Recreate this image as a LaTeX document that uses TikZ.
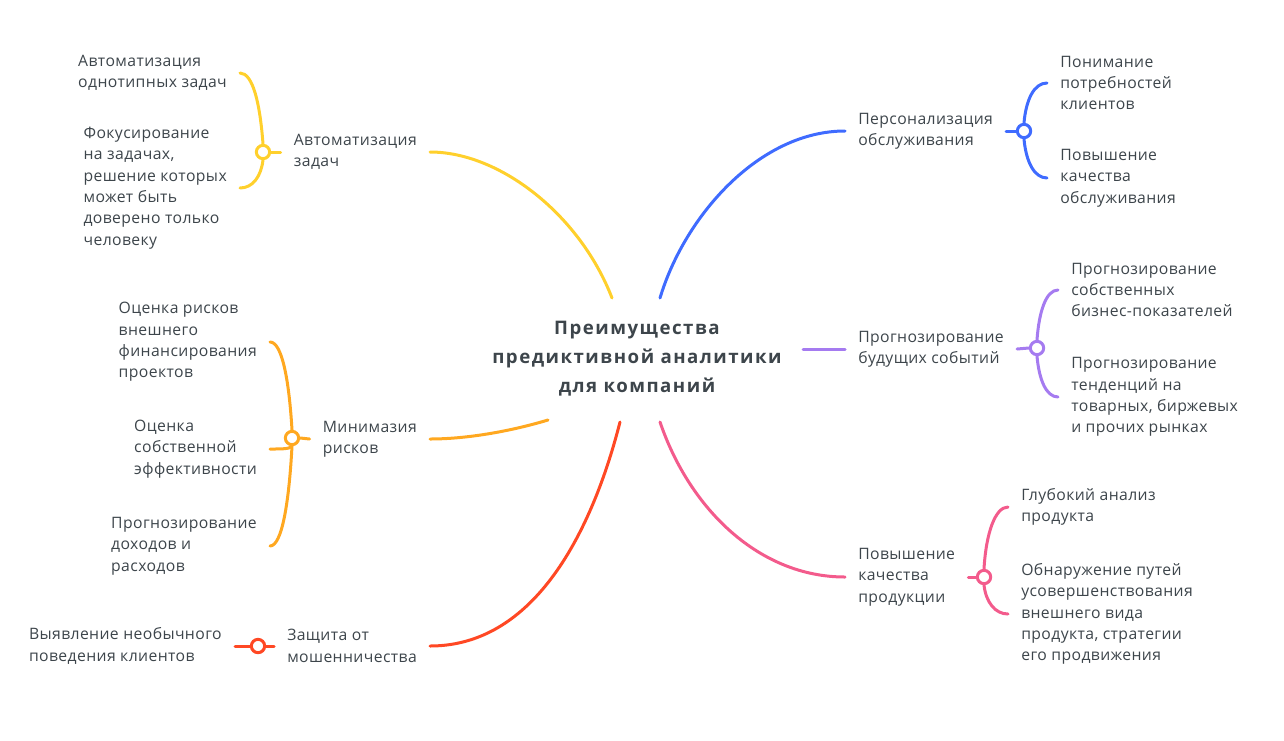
\documentclass[tikz,border=0pt]{standalone}
\usepackage{fontspec}
\setmainfont{Open Sans}[LetterSpace=2.5]
\newfontfamily\titlefont{Open Sans}[LetterSpace=8]
\usepackage{xcolor}
\usepackage{tikz}
\usetikzlibrary{positioning, calc}
\definecolor{ink}{RGB}{61, 69, 75}
\definecolor{mapyellow}{RGB}{255, 208, 44}
\definecolor{maporange}{RGB}{255, 168, 32}
\definecolor{mapred}{RGB}{255, 72, 36}
\definecolor{mapblue}{RGB}{63, 107, 255}
\definecolor{mappurple}{RGB}{165, 123, 240}
\definecolor{mappink}{RGB}{243, 91, 140}

\begin{document}
\begin{tikzpicture}[
          x=0.75pt, y=-0.75pt,
          topic/.style={align=center, text=ink, inner sep=0pt, font=\titlefont\bfseries\fontsize{14}{21.75}\selectfont},
          branch/.style={align=left, text=ink, inner xsep=9.75pt, inner ysep=0pt, font=\fontsize{11.8}{16}\selectfont},
          leaf/.style={branch},
          hub/.style={circle, fill=white, line width=2.25pt, minimum size=10pt, inner sep=0pt},
          conn/.style={line width=2.25pt, line cap=round}
        ]
          \useasboundingbox (0,0) rectangle (1284,740);

          % Central Topic
          \node[topic] (title) at (637,359) {Преимущества\\предиктивной аналитики\\для компаний};
          \coordinate (ty) at (612,298);
          \coordinate (tb) at (660,298);
          \coordinate (tp) at (803,349);
          \coordinate (to) at (548,420);
          \coordinate (tr) at (620,422);
          \coordinate (tk) at (660,422);

          % Main Branches
          \node[branch, anchor=east] (auto) at (430,152) {Автоматизация\\задач};
          \node[branch, anchor=east] (risk) at (430,439) {Минимазия\\рисков};
          \node[branch, anchor=east] (fraud) at (430,646) {Защита от\\мошенничества};
          \node[branch, anchor=west] (pers) at (845,131) {Персонализация\\обслуживания};
          \node[branch, anchor=west] (fcst) at (845,349) {Прогнозирование\\будущих событий};
          \node[branch, anchor=west] (qual) at (845,577) {Повышение\\качества\\продукции};

          % Leaves
          \node[leaf, anchor=east] (auto1) at (240,73) {Автоматизация\\однотипных задач};
          \node[leaf, anchor=east] (auto2) at (240,188) {Фокусирование\\на задачах,\\решение которых\\может быть\\доверено только\\человеку};
          \node[leaf, anchor=east] (risk1) at (270,342) {Оценка рисков\\внешнего\\финансирования\\проектов};
          \node[leaf, anchor=east] (risk2) at (270,449) {Оценка\\собственной\\эффективности};
          \node[leaf, anchor=east] (risk3) at (270,546) {Прогнозирование\\доходов и\\расходов};
          \node[leaf, anchor=east] (fraud1) at (235,646) {Выявление необычного\\поведения клиентов};
          \node[leaf, anchor=west] (pers1) at (1047,83) {Понимание\\потребностей\\клиентов};
          \node[leaf, anchor=west] (pers2) at (1047,178) {Повышение\\качества\\обслуживания};
          \node[leaf, anchor=west] (fcst1) at (1058,290) {Прогнозирование\\собственных\\бизнес-показателей};
          \node[leaf, anchor=west] (fcst2) at (1058,397) {Прогнозирование\\тенденций на\\товарных, биржевых\\и прочих рынках};
          \node[leaf, anchor=west] (qual1) at (1008,507) {Глубокий анализ\\продукта};
          \node[leaf, anchor=west] (qual2) at (1008,614) {Обнаружение путей\\усовершенствования\\внешнего вида\\продукта, стратегии\\его продвижения};

          % Connections
          \draw[conn, mapyellow] (ty) .. controls +(-32,-83) and +(70,0) .. (auto.east);
          \draw[conn, mapblue] (tb) .. controls +(25,-83) and +(-85,0) .. (pers.west);
          \draw[conn, mappurple] (tp) -- (fcst.west);
          \draw[conn, maporange] (to) .. controls +(-40,12) and +(35,0) .. (risk.east);
          \draw[conn, mapred] (tr) .. controls +(-25,98) and +(110,0) .. (fraud.east);
          \draw[conn, mappink] (tk) .. controls +(30,88) and +(-85,0) .. (qual.west);

          % Hubs
          \node[hub, draw=mapyellow] (autohub) at (263,152) {};
          \node[hub, draw=maporange] (riskhub) at (292,438) {};
          \node[hub, draw=mapred] (fraudhub) at (258,646) {};
          \node[hub, draw=mapblue] (pershub) at (1024,131) {};
          \node[hub, draw=mappurple] (fcsthub) at (1037,348) {};
          \node[hub, draw=mappink] (qualhub) at (984,577) {};

          \draw[conn, mapyellow] (autohub.east) -- (auto.west);
          \draw[conn, mapyellow] (autohub.north) .. controls +(-3,-40) and +(13,0) .. (auto1.east);
          \draw[conn, mapyellow] (autohub.south) .. controls +(-2,16) and +(13,0) .. (auto2.east);

          \draw[conn, maporange] (riskhub.east) -- (risk.west);
          \draw[conn, maporange] (riskhub.north) .. controls +(-3,-50) and +(12,0) .. (risk1.east);
          \draw[conn, maporange] (riskhub.south) .. controls +(-2,3) and +(10,0) .. (risk2.east);
          \draw[conn, maporange] (riskhub.south) .. controls +(-3,56) and +(12,0) .. (risk3.east);

          \draw[conn, mapred] (fraudhub.east) -- (fraud.west);
          \draw[conn, mapred] (fraudhub.west) -- (fraud1.east);

          \draw[conn, mapblue] (pershub.west) -- (pers.east);
          \draw[conn, mapblue] (pershub.north) .. controls +(2,-23) and +(-13,0) .. (pers1.west);
          \draw[conn, mapblue] (pershub.south) .. controls +(2,22) and +(-13,0) .. (pers2.west);

          \draw[conn, mappurple] (fcsthub.west) -- (fcst.east);
          \draw[conn, mappurple] (fcsthub.north) .. controls +(2,-28) and +(-12,0) .. (fcst1.west);
          \draw[conn, mappurple] (fcsthub.south) .. controls +(2,23) and +(-12,0) .. (fcst2.west);

          \draw[conn, mappink] (qualhub.west) -- (qual.east);
          \draw[conn, mappink] (qualhub.north) .. controls +(2,-35) and +(-13,0) .. (qual1.west);
          \draw[conn, mappink] (qualhub.south) .. controls +(2,17) and +(-13,0) .. (qual2.west);
        \end{tikzpicture}
\end{document}
